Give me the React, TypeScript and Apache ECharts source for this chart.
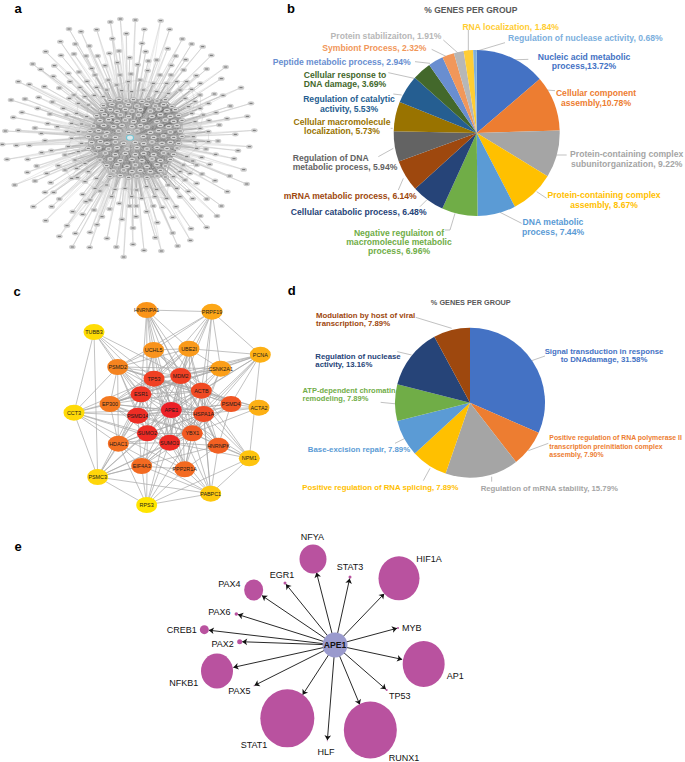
import React, { useEffect, useRef } from "react";
import * as echarts from "echarts";

const FONT = "Liberation Sans";

/* ---------- panel b ---------- */
const bNames = [
  "Nucleic acid metabolic\nprocess,13.72%", "Cellular component\nassembly,10.78%", "Protein-containing complex\nsubunitorganization, 9.22%",
  "Protein-containing complex\nassembly, 8.67%", "DNA metabolic\nprocess, 7.44%", "Negative regulaiton of\nmacromolecule metabolic\nprocess, 6.96%",
  "Cellular catabolic process, 6.48%", "mRNA metabolic process, 6.14%", "Regulation of DNA\nmetabolic process, 5.94%",
  "Cellular macromolecule\nlocalization, 5.73%", "Regulation of catalytic\nactivity, 5.53%", "Cellular response to\nDNA damage, 3.69%",
  "Peptide metabolic process, 2.94%", "Symbiont Process, 2.32%", "Protein stabilizaiton, 1.91%", "RNA localization, 1.84%", "Regulation of nuclease activity, 0.68%",
];
const bValues = [13.72, 10.78, 9.22, 8.67, 7.44, 6.96, 6.48, 6.14, 5.94, 5.73, 5.53, 3.69, 2.94, 2.32, 1.91, 1.84, 0.68];
const bColors = ["#4472C4", "#ED7D31", "#A5A5A5", "#FFC000", "#5B9BD5", "#70AD47", "#264478", "#9E480E", "#636363", "#997300", "#255E91", "#43682B", "#698ED0", "#F1975A", "#B7B7B7", "#FFCD33", "#7CAFDD"];
// label anchor in page px: x, y, align
const bLabelAt: [number, number, string][] = [
  [584, 61.5, "center"], [596, 98, "center"], [626.7, 159, "center"], [604, 200, "center"], [553, 227, "center"], [399, 241.7, "center"],
  [358.7, 212, "center"], [350.3, 195.7, "center"], [292.7, 162.7, "left"], [342, 126.7, "center"], [349, 104, "center"], [345, 79.3, "center"],
  [341.7, 61.7, "center"], [374.3, 47.7, "center"], [386, 36, "center"], [510.7, 26.7, "center"], [585.3, 38.3, "center"],
];
// leader lines in the panel's 3x crop px
const bLeaders: number[][][] = [
  [[775, 178], [715, 180]], [[855, 272], [830, 270]], [[890, 465], [860, 465]], [[830, 595], [800, 575]], [[755, 670], [690, 637]],
  [[525, 690], [540, 690], [555, 640]], [[450, 620], [470, 600]], [[385, 570], [400, 535]], [[325, 470], [370, 445]], [[362, 385], [368, 385]],
  [[370, 282], [395, 285]], [[355, 218], [432, 235]], [[435, 185], [480, 190]], [[485, 148], [530, 170]], [[520, 120], [565, 160]],
  [[595, 90], [595, 155]], [[705, 128], [615, 155]],
];

/* ---------- panel d ---------- */
const dNames = [
  "Signal transduction in response\nto DNAdamage, 31.58%", "Positive regulation of RNA polymerase II\ntranscription preinitiation complex\nassembly, 7.90%",
  "Regulation of mRNA stability, 15.79%", "Positive regulation of RNA splicing, 7.89%", "Base-excision repair, 7.89%",
  "ATP-dependent chromatin\nremodeling, 7.89%", "Regulation of nuclease\nactivity, 13.16%", "Modulation by host of viral\ntranscription, 7.89%",
];
const dValues = [31.58, 7.9, 15.79, 7.89, 7.89, 7.89, 13.16, 7.89];
const dColors = ["#4472C4", "#ED7D31", "#A5A5A5", "#FFC000", "#5B9BD5", "#70AD47", "#264478", "#9E480E"];
const dLabelAt: [number, number, string][] = [
  [604, 355.3, "center"], [549.3, 446, "left"], [549.3, 488.3, "center"], [380.3, 487.3, "center"], [359, 449.3, "center"],
  [302.5, 394.7, "left"], [315.3, 360.7, "left"], [316, 319.7, "left"],
];
const dLeaders: number[][][] = [
  [[825, 228], [785, 242]], [[835, 490], [775, 512]], [[665, 605], [665, 590]], [[460, 602], [480, 565]], [[375, 490], [415, 470]],
  [[332, 367], [382, 372]], [[382, 215], [425, 225]], [[437, 112], [545, 145]],
];

const aOuter: number[][] = [
  [361,57],[331,66],[406,60],[482,62],[207,87],[243,95],[290,89],[433,88],[509,88],[379,101],[337,116],[547,117],[181,125],[226,132],[268,138],[426,130],[575,132],[608,140],[137,155],[183,166],[222,162],[293,168],[328,160],[357,153],[437,155],[503,146],[527,168],[634,166],[98,192],[163,197],[122,208],[258,168],[389,173],[470,180],[557,179],[677,201],[620,207],[205,220],[160,229],[237,216],[275,205],[315,197],[352,188],[413,194],[445,183],[514,196],[551,210],[589,227],[664,236],[55,245],[88,253],[133,260],[178,264],[210,245],[261,244],[360,225],[393,222],[443,212],[480,225],[513,225],[601,250],[723,263],[116,292],[75,297],[33,300],[157,306],[208,295],[283,286],[643,282],[669,286],[625,310],[691,318],[753,310],[113,325],[66,337],[40,352],[150,342],[190,325],[648,338],[681,356],[742,349],[105,384],[143,371],[172,380],[55,391],[16,393],[124,400],[658,375],[627,362],[763,391],[706,403],[654,423],[618,447],[7,433],[49,436],[88,436],[135,422],[748,440],[714,452],[647,463],[125,458],[154,452],[83,478],[21,478],[702,476],[605,472],[578,483],[629,493],[110,498],[82,517],[731,509],[606,522],[140,520],[175,497],[689,528],[645,542],[105,543],[44,555],[152,548],[232,533],[740,552],[590,550],[135,577],[161,577],[682,575],[565,574],[178,597],[248,583],[300,573],[540,590],[578,596],[620,597],[100,620],[155,620],[218,635],[258,605],[282,630],[329,627],[358,610],[389,618],[409,618],[440,635],[460,618],[487,622],[528,620],[664,618],[248,643],[306,650],[366,658],[408,650],[472,668],[518,652],[601,648],[651,648],[137,662],[291,674],[201,677],[226,700],[270,697],[399,684],[518,699],[573,686],[620,682],[178,709],[321,715],[466,713],[571,721],[217,741],[269,742],[349,741],[399,733],[432,751],[484,753],[533,738],[371,771],
];
const aMiddle: number[][] = [
  [285,225],[325,240],[350,255],[385,245],[420,240],[460,250],[500,250],[530,245],[560,245],[240,262],[290,262],[320,270],[365,272],[395,275],[430,270],[470,275],[505,280],[540,270],[575,268],[600,285],[222,285],[255,290],[310,290],[555,295],[585,305],[235,310],[265,315],[565,320],[600,325],[200,345],[230,340],[260,350],[575,340],[610,345],[215,370],[245,372],[585,365],[200,395],[235,395],[600,385],[625,395],[580,410],[215,415],[245,430],[585,425],[625,425],[205,440],[235,455],[590,445],[195,465],[225,480],[255,490],[560,470],[550,495],[590,495],[195,510],[230,505],[265,515],[540,515],[570,520],[215,535],[255,545],[290,535],[520,530],[555,540],[285,565],[320,555],[345,568],[375,565],[410,570],[440,560],[470,568],[505,555],[530,565],[335,590],[395,590],[425,595],[465,590],[500,595],[270,600],
];
const aCore: number[][] = [
  [330,302],[357,298],[378,303],[400,299],[426,304],[446,297],[471,303],[496,299],
  [310,317],[336,313],[361,318],[385,314],[411,318],[441,313],[466,318],[491,314],[516,319],
  [305,331],[331,329],[351,334],[376,328],[396,333],[421,329],[451,333],[476,327],[501,332],[526,329],
  [290,347],[313,344],[336,349],[361,345],[386,350],[416,345],[456,349],[481,344],[511,349],[536,346],
  [300,362],[326,359],[351,364],[376,360],[401,365],[431,361],[471,365],[496,360],[521,364],[546,361],
  [280,378],[311,376],[341,380],[366,376],[396,380],[421,377],[441,381],[481,376],[506,380],[531,377],
  [270,395],[296,392],[321,397],[356,393],[386,397],[411,393],[451,397],[476,392],[511,396],[541,393],
  [265,410],[291,412],[316,408],[346,412],[430,409],[461,412],[491,408],[521,412],[546,409],
  [275,428],[301,425],[321,430],[346,426],[371,430],[406,427],[431,431],[456,426],[486,430],[511,427],[536,431],
  [265,445],[296,443],[326,447],[351,443],[381,447],[411,443],[441,447],[471,442],[501,446],[531,444],
  [285,462],[316,459],[346,464],[376,460],[406,464],[431,460],[461,464],[491,459],[521,463],
  [300,480],[331,477],[361,482],[396,478],[426,482],[456,477],[481,481],[511,478],
  [320,497],[351,494],[381,499],[406,495],[441,499],[471,494],[496,498],
  [340,513],[371,510],[396,515],[421,511],[451,515],[481,511],
  [330,530],[361,527],[386,532],[411,528],[441,532],[471,528],[496,531],
];
const aSeed = [390, 413]; // APE1 in the crop

/* ---------- panel c ---------- */
const cNames = ["HNRNPA1","PRPF19","TUBB3","UCHL5","UBE2I","PCNA","PSMD2","CSNK2A1","TP53","MDM2","ACTB","ESR1","EP300","CCT3","APE1","PSMD14","HSPA1A","PSMD4","ACTA2","SUMO2","YBX1","SUMO1","HNRNPK","HDAC1","NPM1","EIF4A3","PPP2R1A","PSMC3","PABPC1","RPS3"];
const cAt: number[][] = [[440,90],[636,95],[282,156],[461,210],[567,206],[781,224],[353,261],[662,266],[462,296],[542,288],[604,332],[423,343],[330,372],[222,398],[514,390],[413,407],[611,402],[693,372],[777,383],[442,460],[577,460],[509,488],[655,497],[355,491],[748,535],[425,558],[554,568],[293,591],[632,641],[440,675]];
const cColors = ["#FA9419","#FCA717","#FFDC05","#F9931C","#FA9A1B","#FDB014","#F58420","#FB9E18","#F04023","#F04023","#F04A23","#EE3524","#F47920","#FFDA08","#EC2027","#EE2D25","#F04A23","#F15522","#FDB014","#EE2A24","#F15A22","#EE2A24","#F26022","#F37021","#FEC40E","#F36A21","#F36A21","#FFD60A","#FEC80E","#FFE500"];
const cClique = ["TP53","MDM2","ACTB","ESR1","APE1","PSMD14","HSPA1A","SUMO1","SUMO2","YBX1"];
const cAdjacency: Record<string, string[]> = {
  TUBB3: ["CCT3","PSMC3","PSMD2","TP53","ESR1","APE1","MDM2"],
  CCT3: ["PSMC3","EP300","ESR1","TP53","PSMD14","APE1","SUMO2","HDAC1","PSMD2","SUMO1","PPP2R1A"],
  PSMC3: ["RPS3","PSMD14","SUMO2","SUMO1","APE1","YBX1","HNRNPK","EIF4A3","HDAC1","ESR1","PABPC1"],
  RPS3: ["EIF4A3","SUMO2","SUMO1","PABPC1","PPP2R1A","APE1","YBX1","HDAC1","NPM1"],
  PABPC1: ["PPP2R1A","NPM1","HNRNPK","YBX1","APE1","SUMO1","EIF4A3","HSPA1A","HDAC1","ACTB"],
  NPM1: ["HNRNPK","YBX1","APE1","ACTB","PCNA","SUMO1","HSPA1A","MDM2"],
  ACTA2: ["ACTB","HSPA1A","PSMD4","APE1","TP53","YBX1"],
  PCNA: ["PRPF19","UBE2I","CSNK2A1","ACTB","MDM2","APE1","HSPA1A","PSMD4","TP53","SUMO1","EP300","YBX1"],
  PRPF19: ["HNRNPA1","UBE2I","CSNK2A1","ACTB","MDM2","TP53","UCHL5","APE1","PSMD2","HSPA1A"],
  HNRNPA1: ["UCHL5","TP53","MDM2","APE1","ESR1","ACTB","UBE2I","YBX1","SUMO2","HNRNPK"],
  UCHL5: ["TP53","MDM2","ESR1","APE1","ACTB","PSMD2","PSMD14","PSMD4","SUMO1","UBE2I"],
  UBE2I: ["MDM2","TP53","ACTB","APE1","SUMO1","SUMO2","PSMD2","ESR1","EP300","CSNK2A1","HSPA1A","YBX1"],
  CSNK2A1: ["TP53","MDM2","ACTB","APE1","HSPA1A","ESR1","PSMD2","EP300","YBX1"],
  PSMD2: ["TP53","ESR1","EP300","PSMD14","APE1","HDAC1","SUMO2","MDM2","ACTB","PSMD4","HSPA1A","SUMO1"],
  EP300: ["TP53","MDM2","ESR1","APE1","PSMD14","HSPA1A","SUMO1","SUMO2","YBX1","HDAC1","ACTB"],
  PSMD4: ["TP53","MDM2","ACTB","APE1","PSMD14","HSPA1A","SUMO1","YBX1","HNRNPK"],
  HDAC1: ["TP53","ESR1","APE1","SUMO1","SUMO2","PSMD14","YBX1","EIF4A3","HSPA1A"],
  HNRNPK: ["APE1","SUMO1","YBX1","HSPA1A","ACTB","MDM2","PPP2R1A","TP53"],
  EIF4A3: ["APE1","SUMO1","SUMO2","YBX1","PSMD14","HSPA1A","PPP2R1A","ACTB"],
  PPP2R1A: ["APE1","SUMO1","SUMO2","TP53","YBX1","HSPA1A","MDM2","ACTB"],
};

/* ---------- panel e ---------- */
const eTargets = ["NFYA","STAT3","HIF1A","MYB","AP1","TP53","RUNX1","HLF","STAT1","PAX5","NFKB1","PAX2","CREB1","PAX6","PAX4","EGR1"];
const eAt: number[][] = [[549,117],[660,171],[807,175],[804,324],[881,432],[770,510],[721,630],[592,662],[472,595],[372,497],[261,453],[329,365],[223,329],[319,282],[371,210],[465,189]];
const eSizes: number[][] = [[27,29],[3,3],[41,44],[2,2],[42,46],[2,2],[53,57],[1,1],[54,58],[1,1],[32,35],[5,5],[9,9],[3.5,3.5],[19,21],[3,3]];
const eLabelAt: number[][] = [[547,50],[660,142],[897,116],[845,324],[976,467],[809,527],[822,715],[588,695],[372,675],[328,513],[161,488],[278,371],[155,330],[268,275],[298,193],[456,165]];
const eHubAt = [615, 375];
const eHubSize = 25;

const ELLIPSE = "path://M0 1A1 1 0 0 1 2 1A1 1 0 0 1 0 1Z";
const A = (p: number[]) => [p[0] / 3, p[1] / 3];
const B = (p: number[]) => [270 + p[0] / 3, p[1] / 3];
const C = (p: number[]) => [p[0] / 3, 280 + p[1] / 3];
const D = (p: number[]) => [270 + p[0] / 3, 280 + p[1] / 3];
const E = (p: number[]) => [130 + p[0] / 3, 520 + p[1] / 3];

function pie(names: string[], values: number[], colors: string[], at: [number, number, string][], leaders: number[][][], toPage: (p: number[]) => number[], center: number[], r: number, size: number, sizes?: Record<number, number>) {
  return {
    type: "pie", center, radius: [0, r], startAngle: 90, clockwise: true, silent: true, avoidLabelOverlap: false, minShowLabelAngle: 0, z: 3,
    data: names.map((name, i) => ({
      name, value: values[i], itemStyle: { color: colors[i] },
      label: { color: colors[i], fontSize: sizes && sizes[i] ? sizes[i] : size },
    })),
    label: { show: true, formatter: "{b}", fontFamily: FONT, fontWeight: "bold", lineHeight: size + 0.6 },
    labelLine: { show: true, lineStyle: { color: "#A6A6A6", width: 0.7 } },
    labelLayout: (p: any) => ({
      x: at[p.dataIndex][0], y: at[p.dataIndex][1], align: at[p.dataIndex][2], verticalAlign: "middle",
      labelLinePoints: leaders[p.dataIndex].map(toPage),
    }),
  };
}

function nearest(list: number[][], x: number, y: number) {
  let best = 0, bd = Infinity;
  list.forEach((q, i) => { const d = (q[0] - x) ** 2 + (q[1] - y) ** 2; if (d < bd) { bd = d; best = i; } });
  return best;
}

function buildOption() {
  // panel a: peripheral nodes wired towards the core along their own direction (the hairball's wiring is not legible)
  const all = [...aCore, ...aMiddle, ...aOuter];
  const nCore = aCore.length;
  const aLinks: any[] = [];
  aCore.forEach((p, i) => {
    aCore.forEach((q, j) => {
      if (j > i && Math.hypot(p[0] - q[0], p[1] - q[1]) < 80) aLinks.push({ source: i, target: j, lineStyle: { color: "#666", width: 0.7 } });
    });
  });
  aMiddle.forEach((p, k) => {
    const i = nCore + k;
    const dx = p[0] - aSeed[0], dy = p[1] - aSeed[1];
    [0.7, 0.55, 0.4, 0.25, 0.1, -0.2].forEach((f) => {
      const t = nearest(aCore, aSeed[0] + dx * f, aSeed[1] + dy * f);
      aLinks.push({ source: i, target: t, lineStyle: { color: "#969696", width: 0.6 } });
    });
    aMiddle.forEach((q, m) => {
      if (m > k && Math.hypot(p[0] - q[0], p[1] - q[1]) < 42) aLinks.push({ source: i, target: nCore + m, lineStyle: { color: "#A8A8A8", width: 0.5 } });
    });
  });
  aOuter.forEach((p, k) => {
    const i = nCore + aMiddle.length + k;
    const dx = p[0] - aSeed[0], dy = p[1] - aSeed[1];
    [0.4, 0.22, -0.12].forEach((f) => {
      const t = nearest(aCore, aSeed[0] + dx * f, aSeed[1] + dy * f);
      aLinks.push({ source: i, target: t, lineStyle: { color: "#BDBDBD", width: 0.6 } });
    });
  });

  const cLinks: any[] = [];
  cClique.forEach((a, i) => cClique.forEach((b, j) => { if (j > i) cLinks.push({ source: a, target: b }); }));
  Object.keys(cAdjacency).forEach((a) => cAdjacency[a].forEach((b) => cLinks.push({ source: a, target: b })));

  const texts: any[] = [];
  const addText = (text: string, x: number, y: number, font: any, align = "center") =>
    texts.push({ type: "text", x, y, silent: true, style: { text, textAlign: align, textVerticalAlign: "middle", fontFamily: FONT, ...font } });
  const letter = { fontSize: 13, fontWeight: "bold", fill: "#000" };
  addText("a", 18, 8, letter); addText("b", 291, 8, letter); addText("c", 17, 291, letter); addText("d", 291.7, 290, letter); addText("e", 18, 546, letter);
  addText("% GENES PER GROUP", 470.8, 10, { fontSize: 8.5, fontWeight: "bold", fill: "#595959" });
  addText("% GENES PER GROUP", 470.8, 302.7, { fontSize: 7.3, fontWeight: "bold", fill: "#595959" });
  eTargets.forEach((t, i) => { const p = E(eLabelAt[i]); addText(t, p[0], p[1], { fontSize: 9, fill: "#111" }); });

  return {
    animation: false,
    backgroundColor: "#fff",
    grid: { left: 0, right: 0, top: 0, bottom: 0 },
    xAxis: { type: "value", min: 0, max: 685, show: false },
    yAxis: { type: "value", min: 0, max: 762, inverse: true, show: false },
    graphic: texts,
    series: [
      {
        type: "graph", coordinateSystem: "cartesian2d", silent: true, layout: "none",
        symbol: ELLIPSE, symbolSize: [6.6, 4.4],
        data: all.map((p, i) => ({
          value: A(p),
          itemStyle: i < nCore ? { color: "#DADADA", borderColor: "#8A8A8A", borderWidth: 0.4 } : { color: "#CFCFCF" },
        })),
        links: aLinks,
      },
      {
        type: "scatter", silent: true, symbol: "rect", symbolSize: [3, 0.9], itemStyle: { color: "#555", opacity: 0.85 },
        data: all.map(A),
      },
      {
        type: "scatter", silent: true, symbol: ELLIPSE, symbolSize: [7, 5],
        itemStyle: { color: "#E8F4F6", borderColor: "#57C6DA", borderWidth: 1 }, data: [A(aSeed)],
      },
      pie(bNames, bValues, bColors, bLabelAt, bLeaders, B, [476.7, 133], 83, 8.6),
      pie(dNames, dValues, dColors, dLabelAt, dLeaders, D, [470, 402.7], 75, 7.8, { 1: 6.9, 5: 7.5 }),
      {
        type: "graph", coordinateSystem: "cartesian2d", silent: true, layout: "none",
        symbol: ELLIPSE, symbolSize: [21, 16],
        label: { show: true, position: "inside", formatter: "{b}", fontFamily: FONT, fontSize: 5.4, color: "#1a1a1a" },
        lineStyle: { color: "#A8A8A8", width: 0.7, opacity: 1 },
        data: cNames.map((name, i) => ({ name, value: C(cAt[i]), itemStyle: { color: cColors[i] } })),
        links: cLinks,
      },
      {
        type: "graph", coordinateSystem: "cartesian2d", silent: true, layout: "none",
        symbol: ELLIPSE, edgeSymbol: ["none", "arrow"], edgeSymbolSize: [0, 5],
        lineStyle: { color: "#111", width: 0.9, opacity: 1 },
        data: [
          { name: "APE1", value: E(eHubAt), symbolSize: eHubSize, itemStyle: { color: "#9A9ACD" },
            label: { show: true, position: "inside", formatter: "{b}", fontFamily: FONT, fontSize: 8.6, fontWeight: "bold", color: "#111" } },
          ...eTargets.map((name, i) => ({ name, value: E(eAt[i]), symbolSize: eSizes[i], itemStyle: { color: "#B9529F" } })),
        ],
        links: eTargets.map((t) => ({ source: "APE1", target: t })),
      },
    ],
  };
}

export default function App() {
  const ref = useRef<HTMLDivElement>(null);
  useEffect(() => {
    document.body.style.margin = "0";
    const chart = echarts.init(ref.current!, undefined, { renderer: "svg" });
    chart.setOption(buildOption() as any);
    return () => chart.dispose();
  }, []);
  return <div ref={ref} style={{ width: 685, height: 762 }} />;
}
